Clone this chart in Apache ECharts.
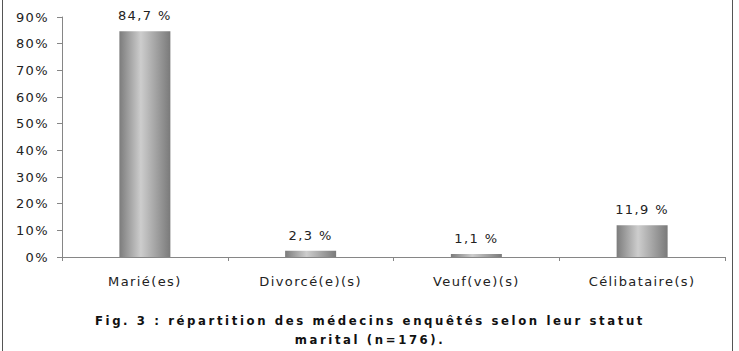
<!DOCTYPE html>
<html><head><meta charset="utf-8">
<script src="https://cdn.jsdelivr.net/npm/echarts@6/dist/echarts.min.js"></script>
<style>
html,body{margin:0;padding:0;background:#fff;}
#c{width:739px;height:351px;}
#c svg text{letter-spacing:1.4px;}
</style></head>
<body><div id="c"></div>
<script>
const categories = ['Marié(es)', 'Divorcé(e)(s)', 'Veuf(ve)(s)', 'Célibataire(s)'];
const values = [84.7, 2.3, 1.1, 11.9];
const yTicks = [0, 10, 20, 30, 40, 50, 60, 70, 80, 90];
const titleLines = ['Fig. 3 : répartition des médecins enquêtés selon leur statut', 'marital (n=176).'];

const chart = echarts.init(document.getElementById('c'), null, {renderer: 'svg'});
const font = 'DejaVu Sans';
const titleFont = '"DejaVu Sans Condensed", "DejaVu Sans"';
chart.setOption({
  animation: false,
  grid: {left: 62, right: 14, top: 17, bottom: 94},
  xAxis: {
    type: 'category', data: categories,
    axisLine: {lineStyle: {color: '#868686', width: 1}},
    axisTick: {show: true, alignWithLabel: false, length: 4, lineStyle: {color: '#868686'}},
    axisLabel: {color: '#222', fontFamily: font, fontSize: 13, margin: 18}
  },
  yAxis: {
    type: 'value', min: yTicks[0], max: yTicks[yTicks.length - 1], interval: 10,
    axisLine: {show: true, lineStyle: {color: '#868686', width: 1}},
    axisTick: {show: true, length: 5, lineStyle: {color: '#868686'}},
    splitLine: {show: false},
    axisLabel: {color: '#222', fontFamily: font, fontSize: 13, margin: 13, formatter: '{value}%'}
  },
  series: [{
    type: 'bar', data: values, barWidth: 51,
    itemStyle: {
      color: new echarts.graphic.LinearGradient(0, 0, 1, 0, [
        {offset: 0, color: '#7c7c7c'},
        {offset: 0.42, color: '#cdcdcd'},
        {offset: 1, color: '#7a7a7a'}
      ])
    },
    label: {
      show: true, position: 'top', distance: 9,
      fontFamily: font, fontSize: 13, color: '#222',
      formatter: p => String(p.value).replace('.', ',') + ' %'
    }
  }],
  graphic: [
    {type: 'rect', shape: {x: 2.5, y: -5, width: 730, height: 365}, style: {fill: 'none', stroke: '#555', lineWidth: 1}, silent: true},
    {type: 'text', id: 't1', x: 370, y: 320, style: {text: titleLines[0], fontFamily: titleFont, fontWeight: 'bold', fontSize: 13, fill: '#111', align: 'center', verticalAlign: 'middle'}},
    {type: 'text', id: 't2', x: 370, y: 339, style: {text: titleLines[1], fontFamily: titleFont, fontWeight: 'bold', fontSize: 13, fill: '#111', align: 'center', verticalAlign: 'middle'}}
  ]
});
function spaceTitle(){
  document.querySelectorAll('#c svg text').forEach(t => {
    if (titleLines.includes(t.textContent)) t.style.letterSpacing = '2.6px';
  });
}
spaceTitle();
chart.on('finished', spaceTitle);
</script></body></html>
